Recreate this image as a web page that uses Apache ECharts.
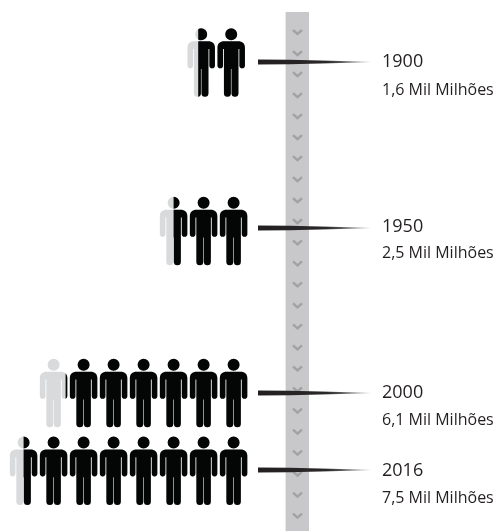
<!DOCTYPE html>
<html>
<head>
<meta charset="utf-8">
<script src="https://cdn.jsdelivr.net/npm/echarts@6/dist/echarts.min.js"></script>
<style>html,body{margin:0;padding:0;background:#fff}#chart{width:496px;height:531px}</style>
</head>
<body>
<div id="chart"></div>
<script>
// World population, in thousand millions, one row per year
const years = ['1900', '1950', '2000', '2016'];
const population = [1.6, 2.5, 6.1, 7.5];
const populationLabels = ['1,6 Mil Milhões', '2,5 Mil Milhões', '6,1 Mil Milhões', '7,5 Mil Milhões'];

// Row layout
const rowCentres = [62.5, 231, 393, 470.7];
const rowRightEdges = [246.2, 248.6, 248.6, 248.6];
const leaderY = [62, 228, 393, 470];
const yearTextY = [62, 227, 393, 470.5];
const amountTextY = [90.5, 253, 420, 498.5];
const rowHeight = 68.5;
const unitsAcross = 8;
const unitWidth = 30;

const FONT = '"Open Sans", sans-serif';
const PERSON = 'path://M14,0 A6.1,6.1 0 1 1 13.99,0 Z M7,13.2 H21 C25.5,13.2 28,15.7 28,19.5 V37.4 A2.85,2.85 0 0 1 22.3,37.4 V21 H21.4 V65.4 A3.55,3.55 0 0 1 14.3,65.4 V41 H13.7 V65.4 A3.55,3.55 0 0 1 6.6,65.4 V21 H5.7 V37.4 A2.85,2.85 0 0 1 0,37.4 V19.5 C0,15.7 2.5,13.2 7,13.2 Z';
const CHEVRON = { stroke: '#a2a2a5', lineWidth: 2.4, fill: 'none' };

const graphics = [
  { type: 'rect', z: 1, shape: { x: 285.6, y: 12, width: 23.4, height: 519 }, style: { fill: '#c8c8ca' }, silent: true }
];
for (let i = 0; i < 24; i++) {
  const y = 32 + i * 21.03;
  graphics.push({ type: 'polyline', z: 2, silent: true,
    shape: { points: [[293, y - 2], [297.5, y + 2], [302, y - 2]] }, style: CHEVRON });
}
years.forEach((year, i) => {
  const c = leaderY[i];
  graphics.push({
    type: 'polygon', z: 3, silent: true,
    shape: { points: [[258, c - 2.5], [290, c - 2.2], [340, c - 0.9], [372, c], [340, c + 0.9], [290, c + 2.2], [258, c + 2.5]] },
    style: { fill: { type: 'linear', x: 0, y: 0, x2: 1, y2: 0, colorStops: [
      { offset: 0, color: '#231f20' }, { offset: 0.6, color: '#2a2829' }, { offset: 1, color: '#b5b5b5' }
    ] } }
  });
  graphics.push({ type: 'text', z: 4, silent: true, x: 382, y: yearTextY[i],
    style: { text: year, font: '18px ' + FONT, fill: '#231f20', textVerticalAlign: 'middle' } });
  graphics.push({ type: 'text', z: 4, silent: true, x: 382, y: amountTextY[i],
    style: { text: populationLabels[i], font: '16px ' + FONT, fill: '#231f20', textVerticalAlign: 'middle' } });
});

const grids = [], xAxes = [], yAxes = [], series = [];
years.forEach((year, i) => {
  const width = unitsAcross * unitWidth;
  grids.push({ left: rowRightEdges[i] - width, width: width, top: rowCentres[i] - rowHeight / 2, height: rowHeight });
  xAxes.push({ gridIndex: i, type: 'value', min: 0, max: unitsAcross, inverse: true, show: false });
  yAxes.push({ gridIndex: i, type: 'category', data: [year], show: false });
  const whole = Math.ceil(population[i]);
  const person = {
    type: 'pictorialBar', xAxisIndex: i, yAxisIndex: i, symbol: PERSON,
    symbolSize: [27.5, rowHeight], symbolMargin: '1.25!', symbolRepeat: 'fixed',
    symbolBoundingData: whole, barCategoryGap: 0, silent: true, animation: false
  };
  // Grey figures show the whole count, the black ones are clipped to the value
  series.push(Object.assign({}, person, { z: 2, itemStyle: { color: '#d9dadb' }, data: [whole] }));
  series.push(Object.assign({}, person, { z: 3, symbolClip: true, itemStyle: { color: '#040606' }, data: [population[i]] }));
});

const chart = echarts.init(document.getElementById('chart'), null, { renderer: 'canvas' });
chart.setOption({
  backgroundColor: '#fff',
  animation: false,
  tooltip: { show: false },
  grid: grids, xAxis: xAxes, yAxis: yAxes, series: series,
  graphic: { elements: graphics }
});
</script>
</body>
</html>
